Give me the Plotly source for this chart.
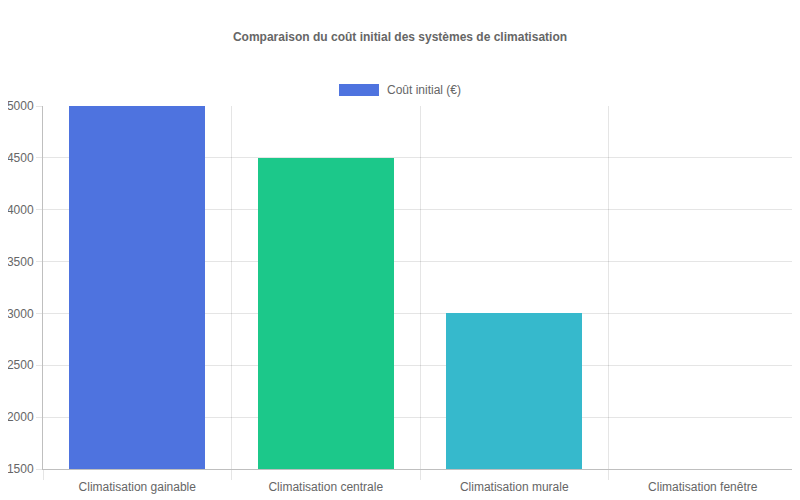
import plotly.graph_objects as go

categories = ["Climatisation gainable", "Climatisation centrale", "Climatisation murale", "Climatisation fenêtre"]
costs = [5000, 4500, 3000, 1500]
colors = ["#4e73df", "#1cc88a", "#36b9cc", "#f6c23e"]
series_name = "Coût initial (€)"
title = "Comparaison du coût initial des systèmes de climatisation"

font = "Liberation Sans, Arial, sans-serif"
grid = "rgba(0,0,0,0.1)"

# page body has an 8px margin, so the figure is a bit smaller than the window
W, H = 792, 492

fig = go.Figure()
fig.add_trace(go.Bar(
    x=categories, y=costs, name=series_name,
    marker=dict(color=colors, line=dict(width=0)),
    width=0.72, showlegend=False,
))

# chart.js style legend: wide colour box + label
fig.add_shape(type="rect", xref="paper", yref="paper",
              x0=0.3926, x1=0.4456, y0=1.0275, y1=1.0606,
              fillcolor=colors[0], line=dict(width=0))
fig.add_annotation(text=series_name, xref="paper", yref="paper",
                   x=0.453, y=1.044, xanchor="left", yanchor="middle",
                   showarrow=False, font=dict(family=font, size=12, color="#666"))

fig.update_layout(
    width=W, height=H,
    margin=dict(l=35, r=3, t=98, b=31),
    paper_bgcolor="white", plot_bgcolor="white",
    font=dict(family=font, size=12, color="#666"),
    title=dict(text="<b>" + title + "</b>", x=(400 - 8) / W, xanchor="center",
               y=1 - 29 / H, yanchor="middle",
               font=dict(family=font, size=12, color="#666")),
    bargap=0,
)
fig.update_xaxes(
    type="category", tickson="boundaries", showgrid=True, gridcolor=grid,
    ticks="outside", ticklen=10, tickcolor=grid, automargin=False,
    ticklabelstandoff=7,
    showline=True, linecolor="rgba(0,0,0,0.25)", linewidth=1,
    tickfont=dict(size=12, color="#666"),
)
fig.update_yaxes(
    range=[1500, 5000], dtick=500, showgrid=True, gridcolor=grid,
    ticks="outside", ticklen=6, tickcolor=grid, automargin=False,
    showline=True, linecolor="rgba(0,0,0,0.25)", linewidth=1,
    zeroline=False, tickfont=dict(size=12, color="#666"),
)

fig.write_html("out.html")
